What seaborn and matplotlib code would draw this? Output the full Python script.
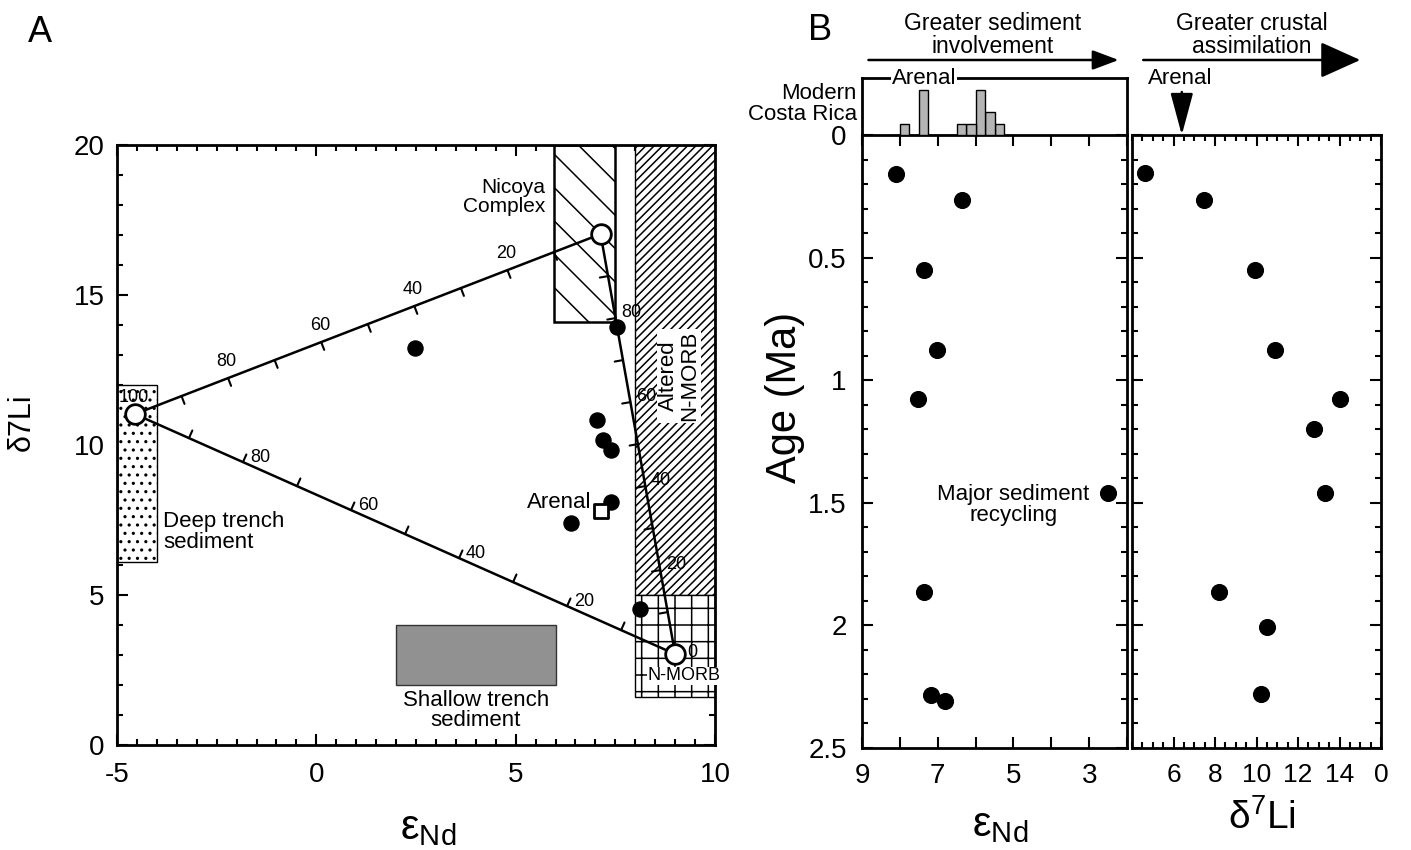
# Li isotopes vs Nd isotopes, Costa Rica arc (panels A and B)

import numpy as np
import matplotlib
matplotlib.use("Agg")
import matplotlib.pyplot as plt
import matplotlib.transforms as mtrans
import seaborn as sns
from matplotlib.patches import Rectangle
from matplotlib.ticker import MultipleLocator, FixedLocator, NullFormatter

# ---- data ----
# panel A: lavas
lava_end = [2.47, 7.53, 7.03, 7.18, 7.38, 7.38, 6.38, 8.12]
lava_li = [13.22, 13.94, 10.83, 10.17, 9.83, 8.11, 7.39, 4.52]
arenal_end = [7.15]
arenal_li = [7.81]

# end members: deep trench sediment, Nicoya complex, N-MORB
member_names = ["sediment", "nicoya", "nmorb"]
member_end = [-4.55, 7.13, 9.0]
member_li = [11.03, 17.03, 3.03]

# field boxes (eNd min, eNd max, d7Li min, d7Li max)
deep_box = [-5.0, -4.0, 6.1, 12.0]
nicoya_box = [5.95, 7.5, 14.1, 20.0]
altered_box = [8.0, 10.0, 5.0, 20.0]
nmorb_box = [8.0, 10.0, 1.6, 5.0]
shallow_box = [2.0, 6.0, 2.0, 4.0]

# panel B: age series
age_nd = [0.159, 0.265, 0.55, 0.876, 1.075, 1.462, 1.862, 2.285, 2.31]
end_nd = [8.11, 6.37, 7.35, 7.03, 7.53, 2.49, 7.35, 7.19, 6.82]
age_li = [0.155, 0.265, 0.55, 0.876, 1.075, 1.20, 1.462, 1.862, 2.008, 2.28]
d7li_li = [4.64, 7.49, 9.93, 10.89, 14.02, 12.77, 13.3, 8.19, 10.5, 10.22]

# modern Costa Rica eNd (histogram)
modern_end = [7.9, 7.4, 7.4, 7.4, 7.4, 6.4, 6.1, 5.9, 5.9, 5.9, 5.9, 5.6, 5.6, 5.4]
arenal_modern_li = 6.4

age_ticks = [0, 0.5, 1, 1.5, 2, 2.5]
age_labels = ["0", "0.5", "1", "1.5", "2", "2.5"]
nd_ticks = [9, 8, 7, 6, 5, 4, 3, 2]
nd_labels = ["9", "", "7", "", "5", "", "3", ""]
li_ticks = [6, 8, 10, 12, 14, 16]
li_labels = ["6", "8", "10", "12", "14", "0"]

# ---- style ----
sns.set_style("ticks")
plt.rcParams["font.family"] = ["Liberation Sans", "DejaVu Sans"]
plt.rcParams["mathtext.fontset"] = "custom"
plt.rcParams["mathtext.rm"] = "Liberation Sans"
plt.rcParams["mathtext.it"] = "Liberation Sans"
plt.rcParams["axes.linewidth"] = 2.0
plt.rcParams["hatch.linewidth"] = 1.1
plt.rcParams["axes.edgecolor"] = "black"
plt.rcParams["text.color"] = "black"
plt.rcParams["axes.labelcolor"] = "black"
plt.rcParams["xtick.color"] = "black"
plt.rcParams["ytick.color"] = "black"
plt.rcParams["axes.unicode_minus"] = False


def fx(px):
    return px / 1411


def fy(py):
    return 1 - py / 850


fig = plt.figure(figsize=(14.11, 8.5), dpi=100)

# =========================================
# Panel A
# =========================================
axA = fig.add_axes([fx(117), fy(745), (715 - 117) / 1411, 600 / 850])
axA.set_xlim(-5, 10)
axA.set_ylim(0, 20)
axA.set_xticks([-5, 0, 5, 10])
axA.set_yticks([0, 5, 10, 15, 20])
axA.xaxis.set_minor_locator(MultipleLocator(0.5))
axA.yaxis.set_minor_locator(MultipleLocator(1))
axA.tick_params(which="both", direction="in", top=True, right=True,
                width=1.5, labelsize=20)
axA.tick_params(which="major", length=8)
axA.tick_params(which="minor", length=4)
axA.tick_params(axis="x", pad=12)
axA.tick_params(axis="y", pad=9)

# field boxes
def add_box(ax, box, **kw):
    r = Rectangle((box[0], box[2]), box[1] - box[0], box[3] - box[2], **kw)
    ax.add_patch(r)


add_box(axA, deep_box, facecolor="white", edgecolor="black", hatch="..", lw=1.0, zorder=1)
add_box(axA, nicoya_box, facecolor="white", edgecolor="black", hatch="\\", lw=1.8, zorder=1)
add_box(axA, altered_box, facecolor="white", edgecolor="black", hatch="////", lw=1.0, zorder=1)
add_box(axA, nmorb_box, facecolor="white", edgecolor="black", hatch="+", lw=1.0, zorder=1)
add_box(axA, shallow_box, facecolor="#919191", edgecolor="#333333", lw=1.0, zorder=1)

# mixing lines between end members
sed = np.array([member_end[0], member_li[0]])
nic = np.array([member_end[1], member_li[1]])
mor = np.array([member_end[2], member_li[2]])


def mixing_line(ax, p0, p1, side, label_steps, lab_off, ha, va):
    ax.plot([p0[0], p1[0]], [p0[1], p1[1]], color="black", lw=1.8, zorder=3)
    d0 = ax.transData.transform(p0)
    d1 = ax.transData.transform(p1)
    v = (d1 - d0) / np.hypot(*(d1 - d0))
    n = np.array([-v[1], v[0]]) * side
    for k in range(0, 11):
        p = p0 + (p1 - p0) * k / 10
        if 0 < k < 10:
            ax.annotate("", xy=p, xytext=(n[0] * 6, n[1] * 6), textcoords="offset points",
                        arrowprops=dict(arrowstyle="-", lw=1.5, color="black",
                                        shrinkA=0, shrinkB=0), zorder=3)
        if k in label_steps:
            ax.annotate(str(100 - 10 * k), xy=p, xytext=lab_off, textcoords="offset points",
                        ha=ha, va=va, fontsize=13, zorder=4)


mixing_line(axA, sed, nic, -1, [0, 2, 4, 6, 8], (-1, 12), "center", "center")
mixing_line(axA, sed, mor, 1, [2, 4, 6, 8], (5, 3), "left", "center")
mixing_line(axA, nic, mor, -1, [2, 4, 6, 8], (4, 4), "left", "center")
axA.annotate("0", xy=mor, xytext=(9, 1), textcoords="offset points",
             ha="left", va="center", fontsize=13, zorder=4)

# points
sns.scatterplot(x=lava_end, y=lava_li, ax=axA, color="black", edgecolor="black",
                s=120, zorder=5, legend=False)
sns.scatterplot(x=arenal_end, y=arenal_li, ax=axA, marker="s", color="white",
                edgecolor="black", linewidth=2.0, s=100, zorder=5, legend=False)
sns.scatterplot(x=member_end, y=member_li, ax=axA, color="white", edgecolor="black",
                linewidth=2.0, s=200, zorder=6, legend=False)

# labels inside panel A
axA.text(5.74, 18.27, "Nicoya\nComplex", ha="right", va="center", fontsize=15,
         multialignment="right", linespacing=1.0)
axA.text(-3.85, 7.1, "Deep trench\nsediment", ha="left", va="center", fontsize=16,
         linespacing=1.0)
axA.text(4.0, 1.15, "Shallow trench\nsediment", ha="center", va="center", fontsize=16,
         linespacing=1.0)
axA.text(6.91, 8.07, "Arenal", ha="right", va="center", fontsize=16)
axA.text(9.1, 12.3, "Altered\nN-MORB", ha="center", va="center", fontsize=16,
         rotation=90, linespacing=1.0, zorder=4,
         bbox=dict(facecolor="white", edgecolor="none", pad=1))
axA.text(9.22, 2.3, "N-MORB", ha="center", va="center", fontsize=13, zorder=4,
         bbox=dict(facecolor="white", edgecolor="none", pad=0.5))

fig.text(fx(22), fy(422), "δ7Li", rotation=90, ha="center", va="center", fontsize=22)
fig.text(fx(428), fy(828), r"$\mathrm{ε_{Nd}}$", ha="center", va="center", fontsize=30)
fig.text(fx(40), fy(32), "A", ha="center", va="center", fontsize=26)

# =========================================
# Panel B
# =========================================
axN = fig.add_axes([fx(862), fy(748), (1127 - 862) / 1411, (748 - 135) / 850])
axL = fig.add_axes([fx(1132), fy(748), (1381 - 1132) / 1411, (748 - 135) / 850])
axH = fig.add_axes([fx(862), fy(135), (1127 - 862) / 1411, (135 - 78) / 850])

for ax in (axN, axL):
    ax.set_ylim(2.5, 0)
    ax.yaxis.set_major_locator(FixedLocator(age_ticks))
    ax.yaxis.set_minor_locator(MultipleLocator(0.1))
    ax.tick_params(which="both", direction="in", top=True, right=True, left=True,
                   width=1.5, labelsize=20)
    ax.tick_params(which="major", length=8)
    ax.tick_params(which="minor", length=4)
    ax.tick_params(axis="both", pad=11)

axN.set_xlim(9, 2)
axN.set_xticks(nd_ticks)
axN.set_xticklabels(nd_labels)
axN.set_yticklabels(age_labels)

axL.set_xlim(4, 16)
axL.set_xticks(li_ticks)
axL.set_xticklabels(li_labels)
axL.xaxis.set_minor_locator(MultipleLocator(0.5))
axL.yaxis.set_major_formatter(NullFormatter())
axL.tick_params(axis="x", labelsize=19)

sns.scatterplot(x=end_nd, y=age_nd, ax=axN, color="black", edgecolor="black",
                s=130, legend=False, clip_on=False, zorder=5)
sns.scatterplot(x=d7li_li, y=age_li, ax=axL, color="black", edgecolor="black",
                s=130, legend=False, clip_on=False, zorder=5)
axN.text(5.0, 1.51, "Major sediment\nrecycling", ha="center", va="center",
         fontsize=16, linespacing=1.0)

# histogram of modern Costa Rica lavas
sns.histplot(x=modern_end, binwidth=0.25, binrange=(5.0, 8.25), ax=axH,
             color="#b5b5b5", edgecolor="black", linewidth=1.0, alpha=1)
axH.set_xlim(9, 2)
axH.set_ylim(0, 5.05)
axH.set_xticks([])
axH.set_yticks([])
axH.set_xlabel("")
axH.set_ylabel("")
axH.patch.set_alpha(0)
axH.spines["bottom"].set_visible(False)
axH.text(7.37, 5.05, "Arenal", ha="center", va="center", fontsize=16,
         bbox=dict(facecolor="white", edgecolor="none", pad=0.5))
axH.text(-0.02, 0.55, "Modern\nCosta Rica", transform=axH.transAxes, ha="right",
         va="center", fontsize=16, multialignment="right", linespacing=1.0)

# arrows and headings above panel B
blendH = mtrans.blended_transform_factory(axH.transData, fig.transFigure)
blendL = mtrans.blended_transform_factory(axL.transData, fig.transFigure)

axH.annotate("", xy=(2.22, fy(60)), xytext=(8.83, fy(60)),
             xycoords=("data", "figure fraction"), textcoords=("data", "figure fraction"),
             arrowprops=dict(arrowstyle="-|>,head_length=0.8,head_width=0.3",
                             mutation_scale=20, lw=1.8, color="black",
                             shrinkA=0, shrinkB=0))
axH.text(5.56, fy(35), "Greater sediment\ninvolvement", transform=blendH,
         ha="center", va="center", fontsize=16.5, linespacing=1.0)

axL.annotate("", xy=(15.0, fy(60)), xytext=(4.54, fy(60)),
             xycoords=("data", "figure fraction"), textcoords=("data", "figure fraction"),
             arrowprops=dict(arrowstyle="-|>,head_length=1.0,head_width=0.45",
                             mutation_scale=25, lw=1.8, color="black",
                             shrinkA=0, shrinkB=0))
axL.text(9.77, fy(35), "Greater crustal\nassimilation", transform=blendL,
         ha="center", va="center", fontsize=16.5, linespacing=1.0)

axL.annotate("", xy=(arenal_modern_li, 0), xytext=(arenal_modern_li, fy(92)),
             xycoords="data", textcoords=("data", "figure fraction"),
             arrowprops=dict(arrowstyle="-|>,head_length=1.3,head_width=0.35",
                             mutation_scale=20, lw=1.8, color="black",
                             shrinkA=0, shrinkB=0), annotation_clip=False)
axL.text(arenal_modern_li - 0.1, fy(78), "Arenal", transform=blendL,
         ha="center", va="center", fontsize=16)

fig.text(fx(785), fy(397), "Age (Ma)", rotation=90, ha="center", va="center", fontsize=30)
fig.text(fx(1000), fy(825), r"$\mathrm{ε_{Nd}}$", ha="center", va="center", fontsize=30)
fig.text(fx(1262), fy(818), r"$\mathrm{δ^{7}Li}$", ha="center", va="center", fontsize=28)
fig.text(fx(820), fy(30), "B", ha="center", va="center", fontsize=26)

plt.savefig("out.png", dpi=100)
